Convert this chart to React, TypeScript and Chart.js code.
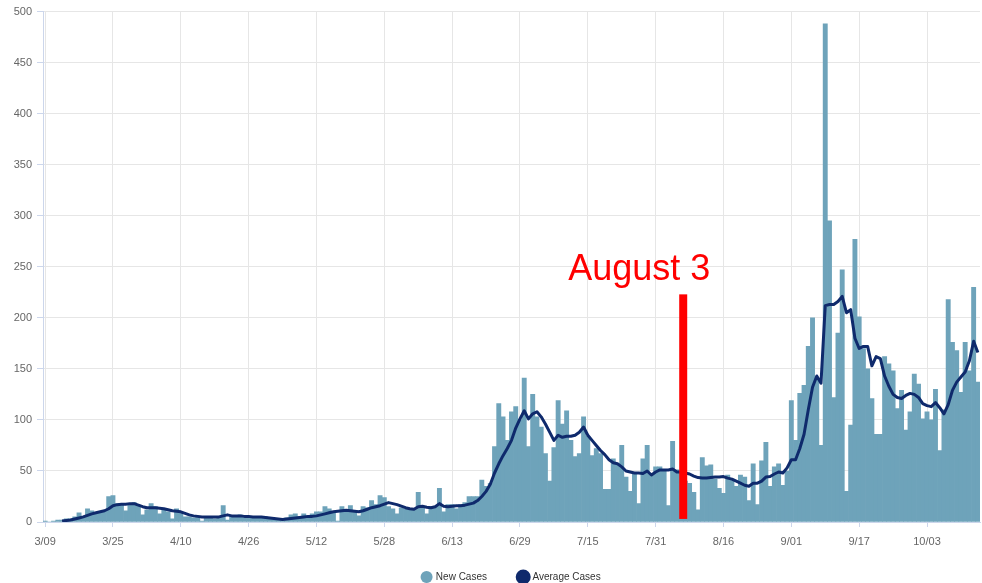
import React, { useEffect, useRef } from 'react';
import { Chart, registerables } from 'chart.js';

Chart.register(...registerables);

// ---------- data ----------
const firstDay = [2020, 2, 9]; // 3/09
const tickLabels = ['3/09', '3/25', '4/10', '4/26', '5/12', '5/28', '6/13', '6/29', '7/15', '7/31', '8/16', '9/01', '9/17', '10/03'];
const seriesNames = ['New Cases', 'Average Cases'];

const newCases = [
  1, 0, 1, 2, 2, 3, 3, 5, 9, 5,
  13, 11, 8, 9, 11, 25, 26, 18, 18, 11,
  18, 19, 16, 7, 12, 18, 15, 8, 12, 10,
  3, 13, 9, 5, 5, 4, 5, 1, 4, 5,
  3, 4, 16, 2, 6, 5, 7, 5, 4, 5,
  4, 4, 5, 4, 3, 3, 3, 4, 7, 8,
  5, 8, 5, 8, 10, 10, 15, 13, 10, 1,
  15, 12, 16, 11, 6, 15, 14, 21, 17, 26,
  24, 15, 13, 8, 14, 13, 12, 12, 29, 15,
  8, 15, 15, 33, 10, 17, 17, 13, 17, 19,
  25, 25, 25, 41, 35, 38, 74, 116, 103, 80,
  108, 113, 100, 141, 74, 125, 103, 93, 67, 40,
  73, 119, 96, 109, 80, 64, 67, 103, 84, 65,
  72, 67, 32, 32, 62, 56, 75, 44, 30, 47,
  18, 62, 75, 47, 54, 54, 51, 16, 79, 51,
  48, 40, 38, 29, 12, 63, 55, 56, 42, 33,
  28, 46, 41, 35, 46, 44, 21, 57, 17, 60,
  78, 35, 54, 57, 36, 50, 119, 80, 126, 134,
  172, 200, 140, 75, 488, 295, 122, 185, 247, 30,
  95, 277, 201, 170, 150, 121, 86, 86, 162, 155,
  148, 111, 129, 90, 108, 145, 135, 101, 108, 100,
  130, 70, 110, 218, 176, 168, 127, 176, 148, 230, 137,
];

const averageCases = [
  null, null, null, null, 1, 1.5, 2, 3, 4, 5,
  6.5, 8, 9, 10, 11, 13, 16, 17, 17.5, 17.5,
  18, 18, 16.5, 15, 14, 14, 14, 13.5, 13, 12,
  11, 10.5, 10, 8.5, 7, 6, 5.5, 5, 5, 5,
  5, 5, 6, 7, 6, 6, 6, 5.5, 5.5, 5,
  5, 5, 4.5, 4, 3.5, 3, 2.5, 3, 3.5, 4,
  4.5, 5, 5.5, 5.5, 6, 7, 8, 9, 10, 10.5,
  11, 11.5, 11, 10.5, 10, 11, 12.5, 14, 15, 16,
  17.5, 19, 18, 17, 15.5, 14, 13, 12.5, 15, 15.5,
  14.5, 14, 15, 18, 15.5, 15, 15.5, 16, 16, 16.5,
  17.5, 18.5, 21, 25, 30, 37, 48, 57, 65, 72,
  80, 92, 101, 109, 101, 106, 108, 103, 96, 88,
  80, 85, 83, 84, 84, 85, 88, 93, 85, 80,
  75, 70, 66, 61, 58, 57, 54, 50, 49, 48,
  48, 47.5, 50, 46, 49, 51, 51, 51, 52, 49,
  49, 48, 47, 45, 43.5, 43, 43, 43.5, 44, 44,
  44.5, 43, 42, 40, 38, 36, 35, 38, 38, 40,
  44, 44.5, 47, 49, 48, 53, 61, 61, 72, 86,
  110, 132, 143, 136, 212, 213, 213, 216, 221, 205,
  208, 180, 170, 172, 172, 153, 162, 160, 143, 133,
  125, 122, 121, 124, 126, 125, 122, 116, 114, 113,
  117, 112, 106, 115, 129, 137, 142, 147, 158, 177, 166,
];

// annotation (drawn over the chart)
const markerText = 'August 3';
const markerPosition = 150.5; // position on the category axis
const markerTop = 223;
const markerBottom = 3;
const markerLabelValue = 237;

// daily category labels, M/DD
const categories: string[] = [];
{
  const d = new Date(firstDay[0], firstDay[1], firstDay[2]);
  for (let i = 0; i < newCases.length; i++) {
    categories.push(`${d.getMonth() + 1}/${String(d.getDate()).padStart(2, '0')}`);
    d.setDate(d.getDate() + 1);
  }
}
const tickSet = new Set(tickLabels);

const FONT = '"Liberation Sans", Arial, Helvetica, sans-serif';
const BAR_COLOR = '#6ea3ba';
const LINE_COLOR = '#0f2a6c';
const GRID = '#e6e6e6';
const AXIS = '#ccd6eb';

const markerPlugin = {
  id: 'marker',
  afterLayout(chart: any) {
    // let the x tick labels extend below the axis box (not clipped by the legend box)
    const xs = chart.scales.x;
    if (xs) xs.bottom = xs.top + 34;
  },
  afterDatasetsDraw(chart: any) {
    const { ctx } = chart;
    const xs = chart.scales.x;
    const ys = chart.scales.y;
    const px = xs.getPixelForValue(markerPosition);
    const top = ys.getPixelForValue(markerTop);
    const bottom = ys.getPixelForValue(markerBottom);
    ctx.save();
    ctx.fillStyle = '#ff0000';
    ctx.fillRect(px - 4, top, 8, bottom - top);
    ctx.font = `36px ${FONT}`;
    ctx.textAlign = 'center';
    ctx.textBaseline = 'alphabetic';
    ctx.fillText(markerText, px - 44, ys.getPixelForValue(markerLabelValue));
    ctx.restore();
  },
};

export default function App() {
  const ref = useRef<HTMLCanvasElement | null>(null);

  useEffect(() => {
    if (!ref.current) return;
    Chart.defaults.font.family = FONT;
    const chart = new Chart(ref.current, {
      type: 'bar',
      data: {
        labels: categories,
        datasets: [
          {
            type: 'bar',
            label: seriesNames[0],
            data: newCases,
            backgroundColor: BAR_COLOR,
            borderWidth: 0,
            categoryPercentage: 1,
            barPercentage: 1,
            order: 2,
          } as any,
          {
            type: 'line',
            label: seriesNames[1],
            data: averageCases,
            borderColor: LINE_COLOR,
            backgroundColor: LINE_COLOR,
            borderWidth: 3,
            pointRadius: 0,
            tension: 0,
            borderJoinStyle: 'round',
            order: 1,
          } as any,
        ],
      },
      options: {
        animation: false,
        responsive: true,
        maintainAspectRatio: false,
        layout: { padding: { left: 0, right: 2, top: 10, bottom: -9 } },
        plugins: {
          tooltip: { enabled: false },
          legend: {
            position: 'bottom',
            fullSize: false,
            labels: {
              usePointStyle: true,
              pointStyle: 'circle',
              boxWidth: 8.5,
              boxHeight: 8.5,
              padding: 32,
              color: '#333',
              font: { size: 10, family: FONT },
              sort: (a: any, b: any) => a.datasetIndex - b.datasetIndex,
            },
          },
        },
        scales: {
          x: {
            grid: {
              offset: false,
              color: (c: any) => (c.tick && c.tick.label ? GRID : 'rgba(0,0,0,0)'),
              tickColor: (c: any) => (c.tick && c.tick.label ? AXIS : 'rgba(0,0,0,0)'),
              tickLength: 5,
            },
            border: { display: true, color: AXIS },
            ticks: {
              autoSkip: false,
              maxRotation: 0,
              minRotation: 0,
              padding: 8,
              color: '#666',
              font: { size: 11, family: FONT },
              callback: (_v: any, i: number) => (tickSet.has(categories[i]) ? categories[i] : null),
            },
            afterFit: (s: any) => {
              s.height = 18;
            },
          },
          y: {
            min: 0,
            max: 500,
            ticks: { stepSize: 50, color: '#666', padding: 5, font: { size: 11, family: FONT } },
            grid: { color: GRID, tickColor: AXIS, tickLength: 6 },
            border: { display: true, color: AXIS },
            afterFit: (s: any) => {
              s.width = 43;
            },
          },
        },
      } as any,
      plugins: [markerPlugin],
    });
    return () => chart.destroy();
  }, []);

  return (
    <div style={{ position: 'fixed', left: 0, top: 0, width: 982, height: 583, background: '#fff' }}>
      <canvas ref={ref} />
    </div>
  );
}
